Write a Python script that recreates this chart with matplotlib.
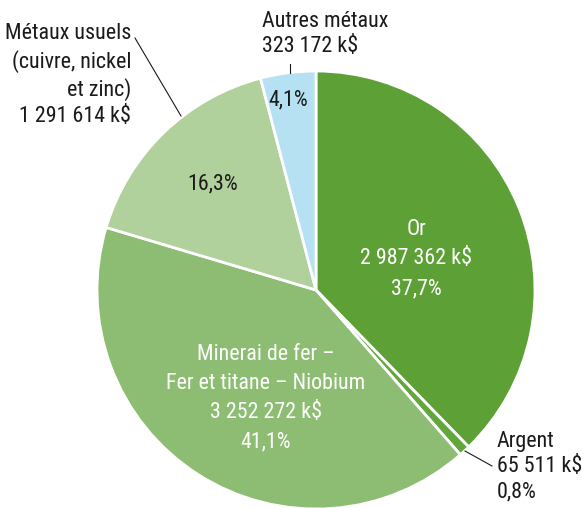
import matplotlib
matplotlib.use("Agg")
import warnings
warnings.filterwarnings("ignore")
import matplotlib.pyplot as plt
from matplotlib import font_manager
from matplotlib.font_manager import FontProperties

categories = ["Or", "Argent", "Minerai de fer –\nFer et titane – Niobium", "Métaux usuels\n(cuivre, nickel\net zinc)", "Autres métaux"]
values_k = [2987362, 65511, 3252272, 1291614, 323172]
value_labels = ["2 987 362 k$", "65 511 k$", "3 252 272 k$", "1 291 614 k$", "323 172 k$"]
pct_labels = ["37,7%", "0,8%", "41,1%", "16,3%", "4,1%"]
colors = ["#5ca036", "#62a63c", "#8dbd72", "#b0d09c", "#b5e1f2"]

allowed = ("DejaVu Sans", "Liberation Sans", "Noto Sans", "Roboto", "Open Sans", "Lato", "Inter")
W, H = 582, 508
fig = plt.figure(figsize=(W/100, H/100), dpi=100)
renderer = fig.canvas.get_renderer()
best = None
sample = "Fer et titane – Niobium"
for f in font_manager.fontManager.ttflist:
    if f.style != "normal" or f.weight not in (400, "normal", "regular"):
        continue
    if not f.name.startswith(allowed):
        continue
    if any(k in f.name for k in ("CJK", "Mono", "Serif", "Math", "Display")):
        continue
    try:
        p = FontProperties(fname=f.fname, size=10)
        w, h, d = renderer.get_text_width_height_descent(sample, p, ismath=False)
        wm, hm, dm = renderer.get_text_width_height_descent("H", p, ismath=False)
    except Exception:
        continue
    if w <= 0 or hm - dm <= 0:
        continue
    ratio = w / (hm - dm)
    if best is None or ratio < best[0]:
        best = (ratio, f.fname, w)
font_file = best[1]
target_w = 198.0
fs = 10 * target_w / best[2]

def fp(size=fs):
    return FontProperties(fname=font_file, size=size)

ax = fig.add_axes([0, 0, 1, 1])

def Y(y):
    return H - y

cx, cy, r = 316, 290, 219
ax.pie(values_k, colors=colors, startangle=90, counterclock=False,
       center=(cx, Y(cy)), radius=r, frame=True,
       wedgeprops=dict(edgecolor="white", linewidth=2))
ax.set_xlim(0, W)
ax.set_ylim(0, H)
ax.set_aspect("equal")
ax.axis("off")

dark = "#1a1a1a"
ax.text(416, Y(259), f"{categories[0]}\n{value_labels[0]}\n{pct_labels[0]}", color="white",
        ha="center", va="center", fontproperties=fp(), linespacing=1.55)
ax.text(266, Y(398), f"{categories[2]}\n{value_labels[2]}\n{pct_labels[2]}", color="white",
        ha="center", va="center", fontproperties=fp(), linespacing=1.5)
ax.text(213, Y(184), pct_labels[3], color=dark, ha="center", va="center", fontproperties=fp())
ax.text(288, Y(100), pct_labels[4], color=dark, ha="center", va="center", fontproperties=fp())

ax.text(262, Y(34), f"{categories[4]}\n{value_labels[4]}", color=dark, ha="left", va="center",
        fontproperties=fp(), linespacing=1.3)
ax.plot([290, 290], [Y(64), Y(73)], color=dark, lw=0.8)

ax.text(131, Y(75), f"{categories[3]}\n{value_labels[3]}", color=dark, ha="right", va="center",
        fontproperties=fp(), linespacing=1.3)
ax.plot([135, 181], [Y(38), Y(116)], color=dark, lw=0.8)

ax.text(497, Y(467), f"{categories[1]}\n{value_labels[1]}\n{pct_labels[1]}", color=dark, ha="left",
        va="center", fontproperties=fp(), linespacing=1.25)
ax.plot([465, 492], [Y(451), Y(466)], color=dark, lw=0.8)

fig.savefig("out.png", dpi=100)
